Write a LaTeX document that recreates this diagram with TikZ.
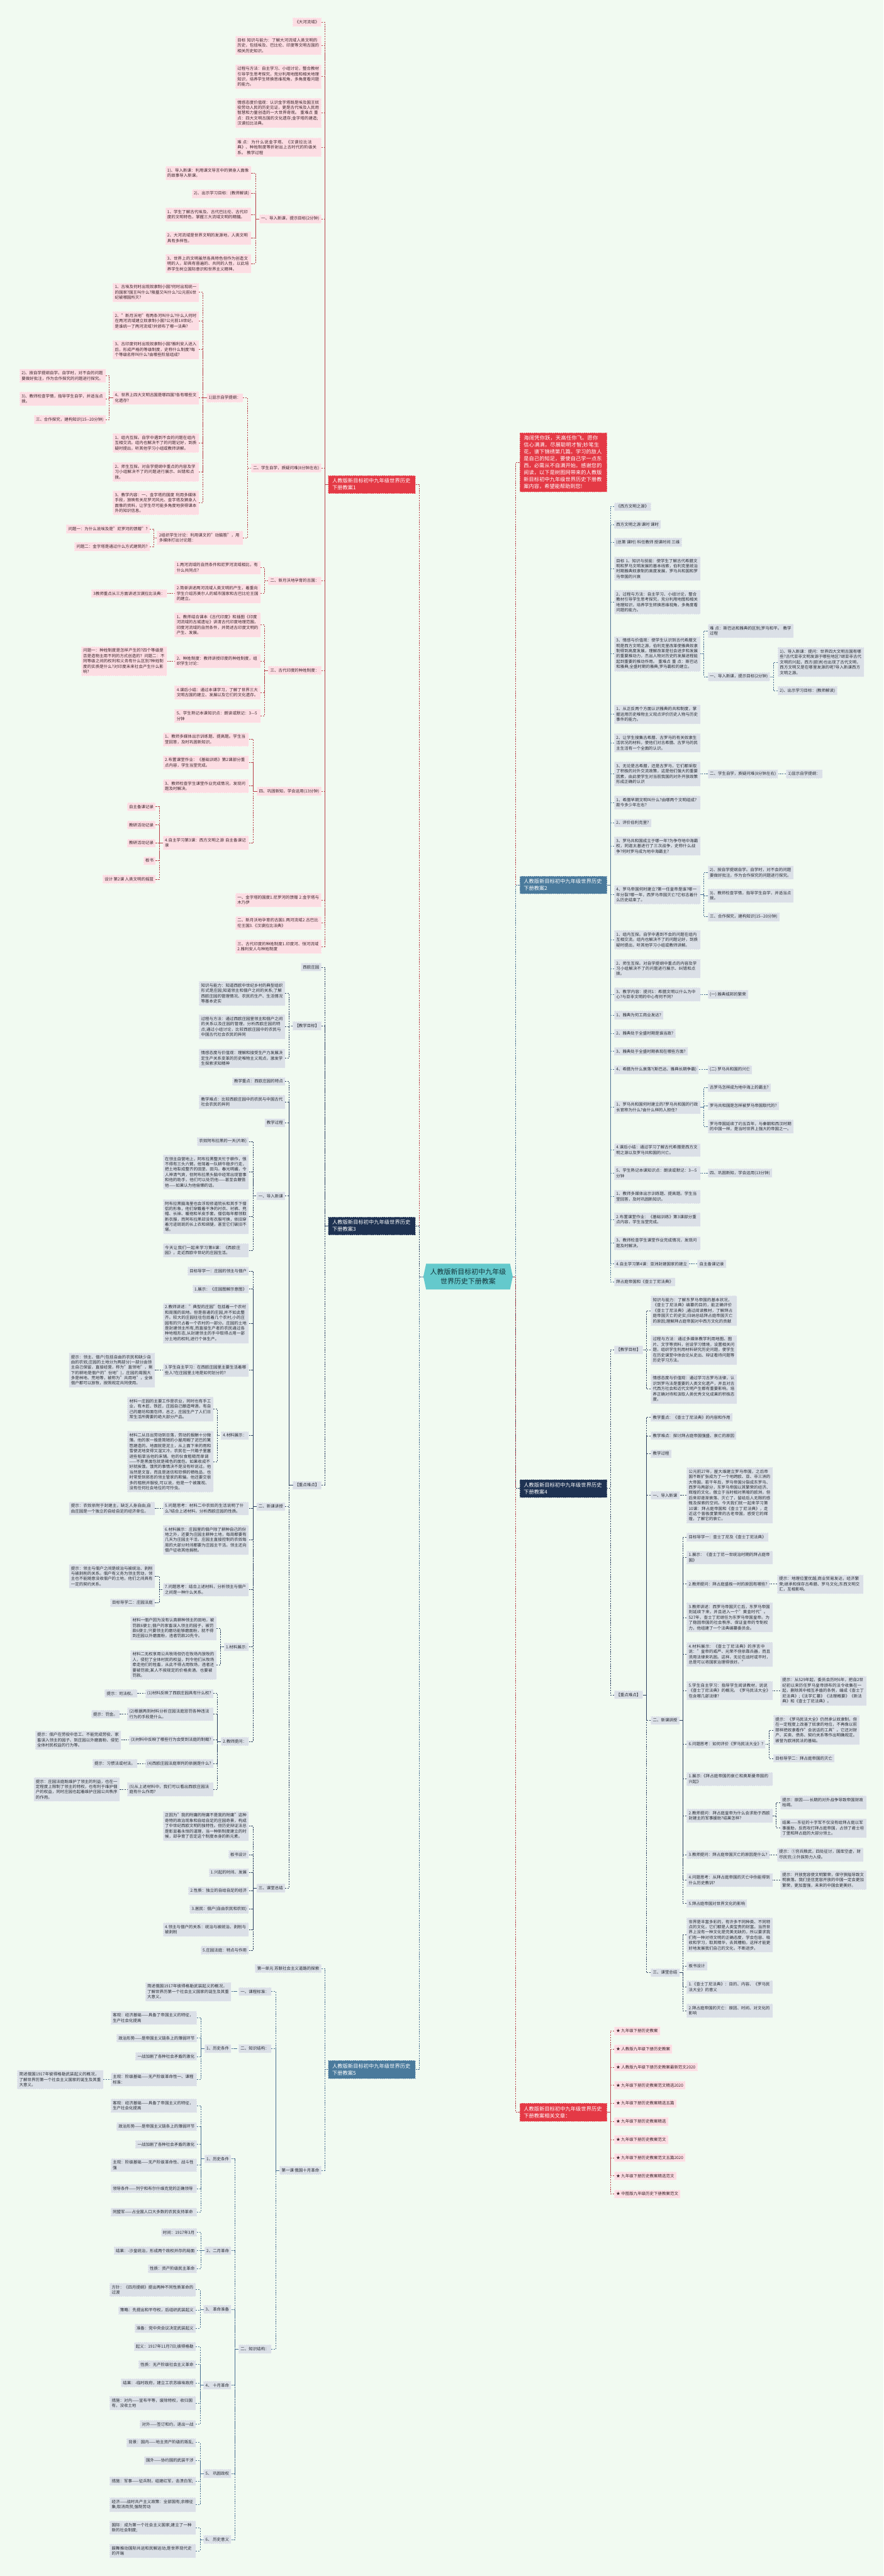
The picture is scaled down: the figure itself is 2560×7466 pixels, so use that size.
\documentclass[tikz,border=0pt]{standalone}
\usepackage{fontspec}
\setmainfont{Noto Sans CJK SC}
\XeTeXlinebreaklocale "zh"
\XeTeXlinebreakskip=0pt plus 1pt
\usepackage{tikz}
\usetikzlibrary{positioning, shapes.symbols}

\definecolor{bgc}{RGB}{241,250,241}
\definecolor{pkfill}{RGB}{252,221,227}
\definecolor{pkedge}{RGB}{255,238,241}
\definecolor{pktext}{RGB}{60,38,44}
\definecolor{gyfill}{RGB}{219,224,231}
\definecolor{gyedge}{RGB}{238,241,245}
\definecolor{gytext}{RGB}{40,44,52}
\definecolor{kred}{RGB}{228,57,69}
\definecolor{knavy}{RGB}{30,50,82}
\definecolor{ksteel}{RGB}{74,122,156}
\definecolor{teal0}{RGB}{100,201,204}
\definecolor{roottext}{RGB}{20,52,58}
\definecolor{linered}{RGB}{185,62,72}
\definecolor{linenavy}{RGB}{42,62,96}
\definecolor{linesteel}{RGB}{72,110,145}

\newcommand\leaffont{\fontsize{11.8}{15.3}\selectfont}
\newcommand\branchfont{\fontsize{15}{20}\selectfont}
\newcommand\rootfont{\fontsize{20}{26}\selectfont}

\tikzset{
  leaf/.style={inner xsep=6pt, inner ysep=6.6pt, font=\leaffont, align=left, dashed, line width=0.5pt},
  pk/.style={leaf, fill=pkfill, draw=pkedge, text=pktext},
  gy/.style={leaf, fill=gyfill, draw=gyedge, text=gytext},
  wide/.style={text width=237pt},
  lt/.style={anchor=east},
  rt/.style={anchor=west},
  branch/.style={fill=#1, draw=white!55!#1, dashed, line width=0.6pt, text=white, font=\branchfont,
    align=left, text width=229pt, inner xsep=12pt, inner ysep=9pt},
  root/.style={signal, signal to=west and east, signal pointer angle=156, fill=teal0, text=roottext,
    font=\rootfont, align=center, minimum width=259pt, minimum height=75pt, inner xsep=2pt},
  lnk/.style={dash pattern=on 4pt off 3pt, line width=1.1pt},
  lr/.style={lnk, draw=linered},
  ln/.style={lnk, draw=linenavy},
  lb/.style={lnk, draw=linesteel}
}

\newcommand\linkL[3]{\foreach \ch in {#3} {\draw[#1] (\ch.east) -| ([xshift=-10pt]#2.west) -- (#2.west);}}
\newcommand\linkR[3]{\foreach \ch in {#3} {\draw[#1] (\ch.west) -| ([xshift=10pt]#2.east) -- (#2.east);}}

\begin{document}
\begin{tikzpicture}[x=1pt, y=-1pt]
  \fill[bgc] (0,0) rectangle (2560,7466);
  \useasboundingbox (0,0) rectangle (2560,7466);

  \node[root] (root) at (1356,3700) {人教版新目标初中九年级\\世界历史下册教案};

  \node[branch=kred, lt] (k1) at (1204,1404) {人教版新目标初中九年级世界历史下册教案1};
  \node[branch=knavy, lt] (k3) at (1204,3553) {人教版新目标初中九年级世界历史下册教案3};
  \node[branch=ksteel, lt] (k5) at (1204,5998) {人教版新目标初中九年级世界历史下册教案5};
  \node[branch=kred, rt] (hk) at (1505,1340) {海阔凭你跃，天高任你飞。愿你信心满满，尽展聪明才智;妙笔生花，谱下锦绣第几篇。学习的敌人是自己的知足，要使自己学一点东西，必需从不自满开始。感谢您的阅读，以下是树图网带来的人教版新目标初中九年级世界历史下册教案内容，希望能帮助到您!};
  \node[branch=ksteel, rt] (k2) at (1505,2565) {人教版新目标初中九年级世界历史下册教案2};
  \node[branch=knavy, rt] (k4) at (1505,4314) {人教版新目标初中九年级世界历史下册教案4};
  \node[branch=kred, rt] (kw) at (1505,6122) {人教版新目标初中九年级世界历史下册教案相关文章：};

  \draw[lr] (k1.east) -| ([xshift=-11pt]root.west) -- (root.west);
  \draw[ln] (k3.east) -| ([xshift=-11pt]root.west) -- (root.west);
  \draw[lb] (k5.east) -| ([xshift=-11pt]root.west) -- (root.west);
  \draw[lr] (hk.west) -| ([xshift=8pt]root.east) -- (root.east);
  \draw[lb] (k2.west) -| ([xshift=8pt]root.east) -- (root.east);
  \draw[ln] (k4.west) -| ([xshift=8pt]root.east) -- (root.east);
  \draw[lr] (kw.west) -| ([xshift=8pt]root.east) -- (root.east);

  % lesson 1
  \node[pk, lt] (a1) at (931,64) {《大河流域》};
  \node[pk, lt, wide] (a2) at (931,132) {目标 知识与能力：了解大河流域人类文明的历史，包括埃及、巴比伦、印度等文明古国的相关历史知识。};
  \node[pk, lt, wide] (a3) at (931,222) {过程与方法：自主学习、小组讨论，整合教材引导学生思考探究，充分利用地图和相关地理知识，培养学生转换思维视角，多角度看问题的能力。};
  \node[pk, lt, wide] (a4) at (931,327) {情感态度价值观：认识金字塔既是埃及国王奴役劳动人民的历史见证，更是古代埃及人民用智慧和力量创造的一大世界奇观。 重难点 重点：四大文明古国的文化遗存;金字塔的建造;汉谟拉比法典。};
  \node[pk, lt, wide] (a5) at (931,427) {难 点：为什么说金字塔、《汉谟拉比法典》、种姓制度等折射出上古时代的阶级关系。 教学过程};
  \node[pk, lt] (a6) at (931,634) {一、导入新课，提示目标(2分钟)};
  \node[pk, lt, wide] (a61) at (728,501) {1)、导入新课：利用课文导言中的狮身人面像的故事导入新课。};
  \node[pk, lt] (a62) at (728,561) {2)、出示学习目标：(教师解读)};
  \node[pk, lt, wide] (a63) at (728,622) {1、学生了解古代埃及、古代巴比伦、古代印度的文明特色，掌握三大流域文明的精髓。};
  \node[pk, lt, wide] (a64) at (728,690) {2、大河流域是世界文明的发源地，人类文明具有多样性。};
  \node[pk, lt, wide] (a65) at (728,764) {3、世界上的文明虽然各具特色但作为创造文明的人，却具有普遍的、共同的人性，以此培养学生树立国际意识和世界主义精神。};
  \node[pk, lt] (a7) at (931,1356) {二、学生自学，质疑问难(8分钟左右)};
  \node[pk, lt] (a71) at (704,1153) {1)显示自学提纲：};
  \node[pk, lt, wide] (a711) at (576,847) {1、古埃及何时出现奴隶制小国?何时出现统一的国家?国王叫什么?陵墓又叫什么?公元前6世纪被哪国所灭?};
  \node[pk, lt, wide] (a712) at (576,930) {2、"新月沃地"有两条河叫什么?什么人何时在两河流域建立奴隶制小国?公元前18世纪，是谁统一了两河流域?并颁布了哪一法典?};
  \node[pk, lt, wide] (a713) at (576,1013) {3、古印度何时出现奴隶制小国?雅利安人进入后，形成严格的等级制度，史称什么制度?每个等级名称叫什么?由哪些阶层组成?};
  \node[pk, lt, wide] (a714) at (576,1153) {4、世界上四大文明古国是哪四国?各有哪些文化遗存?};
  \node[pk, lt, wide] (a7141) at (306,1089) {2)、按自学提纲自学。自学时，对不会的问题要做好批注，作为合作探究的问题进行探究。};
  \node[pk, lt, wide] (a7142) at (306,1156) {3)、教师检查学情，指导学生自学，并适当点拨。};
  \node[pk, lt] (a7143) at (306,1216) {三、合作探究，建构知识(15-{}-20分钟)};
  \node[pk, lt, wide] (a715) at (576,1284) {1、组内互探。自学中遇到不会的问题在组内互相交流。组内也解决不了的问题记好，到质疑时提出，听其他学习小组或教师讲解。};
  \node[pk, lt, wide] (a716) at (576,1368) {2、师生互探。对自学提纲中重点的内容及学习小组解决不了的问题进行展示、纠错和点拨。};
  \node[pk, lt, wide] (a717) at (576,1457) {3、教学内容：一、金字塔的国度 利用多媒体手段，放映有关尼罗河风光、金字塔及狮身人面像的资料，让学生尽可能多角度地获得课本外的知识信息。};
  \node[pk, lt, wide] (a72) at (704,1559) {2组织学生讨论：利用课文的"动脑筋"，用多媒体打出讨论题：};
  \node[pk, lt] (a721) at (434,1533) {问题一：为什么说埃及是"尼罗河的馈赠"?};
  \node[pk, lt] (a722) at (434,1584) {问题二：金字塔是通过什么方式建筑的?};
  \node[pk, lt] (a8) at (931,1683) {二、新月沃地孕育的古国：};
  \node[pk, lt, wide] (a81) at (755,1645) {1.两河流域的自然条件和尼罗河流域相比，有什么共同点?};
  \node[pk, lt, wide] (a82) at (755,1720) {2.简单讲述两河流域人类文明的产生，着重向学生介绍苏美尔人的城市国家和古巴比伦王国的建立。};
  \node[pk, lt] (a821) at (484,1720) {3教师重点从三方面讲述汉谟拉比法典：};
  \node[pk, lt] (a9) at (931,1943) {三、古代印度的种姓制度：};
  \node[pk, lt, wide] (a91) at (755,1811) {1、教师结合课本《古代印度》和插图《印度河流域的古城遗址》讲清古代印度地理范围，印度河流域的自然条件，并简述古印度文明的产生、发展。};
  \node[pk, lt, wide] (a92) at (755,1916) {2、种姓制度：教师讲授印度的种姓制度，组织学生讨论：};
  \node[pk, lt, wide] (a921) at (484,1916) {问题一：种姓制度是怎样产生的?四个等级是否是造物主用不同的方式创造的? 问题二：不同等级之间的权利和义务有什么区别?种姓制度的实质是什么?对印度未来社会产生什么影响?};
  \node[pk, lt, wide] (a93) at (755,2007) {4.课后小结：通过本课学习，了解了世界三大文明古国的建立、发展以及它们的文化遗存。};
  \node[pk, lt, wide] (a94) at (755,2075) {5、学生熟记本课知识点：朗读或默记：3—5分钟};
  \node[pk, lt] (a10) at (931,2293) {四、巩固新知，学会运用(13分钟)};
  \node[pk, lt, wide] (a101) at (721,2143) {1、教师多媒体出示训练题、提高题。学生当堂回答，及时巩固新知识。};
  \node[pk, lt, wide] (a102) at (721,2210) {2.布置课堂作业：《基础训练》第2课部分重点内容，学生当堂完成。};
  \node[pk, lt, wide] (a103) at (721,2278) {3、教师检查学生课堂作业完成情况，发现问题及时解决。};
  \node[pk, lt, wide] (a104) at (721,2443) {4.自主学习第3课：西方文明之源 自主备课记录};
  \node[pk, lt] (a1041) at (451,2338) {自主备课记录};
  \node[pk, lt] (a1042) at (451,2391) {教研活动记录};
  \node[pk, lt] (a1043) at (451,2443) {教研活动记录};
  \node[pk, lt] (a1044) at (451,2494) {板书};
  \node[pk, lt] (a1045) at (451,2548) {设计 第2课 人类文明的摇篮};
  \node[pk, lt, wide] (a11) at (931,2608) {一、金字塔的国度1.尼罗河的馈赠 2.金字塔与木乃伊};
  \node[pk, lt, wide] (a12) at (931,2675) {二、新月沃地孕育的古国1.两河流域2.古巴比伦王国3.《汉谟拉比法典》};
  \node[pk, lt, wide] (a13) at (931,2743) {三、古代印度的种姓制度1.印度河、恒河流域2.雅利安人与种姓制度};

  \linkL{lr}{k1}{a1,a2,a3,a4,a5,a6,a7,a8,a9,a10,a11,a12,a13}
  \linkL{lr}{a6}{a61,a62,a63,a64,a65}
  \linkL{lr}{a7}{a71,a72}
  \linkL{lr}{a71}{a711,a712,a713,a714,a715,a716,a717}
  \linkL{lr}{a714}{a7141,a7142,a7143}
  \linkL{lr}{a72}{a721,a722}
  \linkL{lr}{a8}{a81,a82}
  \linkL{lr}{a82}{a821}
  \linkL{lr}{a9}{a91,a92,a93,a94}
  \linkL{lr}{a92}{a921}
  \linkL{lr}{a10}{a101,a102,a103,a104}
  \linkL{lr}{a104}{a1041,a1042,a1043,a1044,a1045}

  % lesson 3
  \node[gy, lt] (b1) at (931,2803) {西欧庄园};
  \node[gy, lt] (b2) at (931,2973) {【教学目标】};
  \node[gy, lt, wide] (b21) at (826,2879) {知识与能力：知道西欧中世纪乡村的典型组织形式是庄园;知道领主和佃户之间的关系;了解西欧庄园的管理情况、农民的生产、生活情况等基本史实};
  \node[gy, lt, wide] (b22) at (826,2976) {过程与方法：通过西欧庄园里领主和佃户之间的关系以及庄园的管理，分析西欧庄园的特点;通过小组讨论，比较西欧庄园中的农民与中国古代社会农民的异同};
  \node[gy, lt, wide] (b23) at (826,3067) {情感态度与价值观：理解和接受生产力发展决定生产关系变革的历史唯物主义观点，激发学生探索求知精神};
  \node[gy, lt] (b3) at (931,4304) {【重点难点】};
  \node[gy, lt] (b31) at (826,3134) {教学重点：西欧庄园的特点};
  \node[gy, lt, wide] (b32) at (826,3194) {教学难点：比较西欧庄园中的农民与中国古代社会农民的异同};
  \node[gy, lt] (b33) at (826,3254) {教学过程};
  \node[gy, lt] (b34) at (826,3466) {一、导入新课};
  \node[gy, lt] (b341) at (721,3308) {农奴阿布拉黑的一天(片断)};
  \node[gy, lt, wide] (b342) at (721,3397) {在领主自营地上，阿布拉黑整天忙于耕作，恨不得有三头六臂。他驾着一队耕牛稳步行走，把土地犁成整齐的田垄、田沟。春光明媚，令人神清气爽，但阿布拉黑头脑中经常出现管事和他的助手，他们可以处罚他——甚至会鞭笞他——如果认为他偷懒的话。};
  \node[gy, lt, wide] (b343) at (721,3526) {阿布拉黑脑海里也会浮现修道院长和其手下僧侣的形象，他们穿戴着干净的衬衣、衬裤、兜帽、长袜、暖袍和羊皮手套。僧侣每年都领取新衣服，而阿布拉黑却没有衣服可换，依旧穿着污迹斑斑的长上衣和绑腿，甚至它们破旧不堪。};
  \node[gy, lt, wide] (b344) at (721,3624) {今天让我们一起来学习第8课：《西欧庄园》，走近西欧中世纪的庄园生活。};
  \node[gy, lt] (b35) at (826,4366) {二、新课讲授};
  \node[gy, lt] (b351) at (721,3684) {目标导学一：庄园的领主与佃户};
  \node[gy, lt] (b352) at (721,3736) {1.展示：《庄园图解示意图》};
  \node[gy, lt, wide] (b353) at (721,3835) {2.教师讲述："典型的庄园"包括着一个农村和周围的田地。但是普通的庄园,并不如此整齐。较大的庄园往往包括着几个农村,小的庄园有的只占着一个农村的一部分。庄园的土地是封建领主所有,而直接生产者的农民通过各种地租形态,从封建领主的手中取得占用一部分土地的权利,进行个体生产。};
  \node[gy, lt, wide] (b354) at (721,3971) {3.学生自主学习：在西欧庄园里主要生活着哪些人?在庄园里土地是如何划分的?};
  \node[gy, lt, wide] (b3541) at (449,3971) {提示：领主、佃户(包括自由的农民和缺少自由的农奴;庄园的土地分为两部分(一部分由领主自己保留，直接经营，称为"直领地"，剩下的耕地是佃户的"份地")，庄园的周围大多是林地、荒地等，被称为"共用地"，全体佃户都可以放牧，按照规定共同使用。};
  \node[gy, lt] (b355) at (721,4160) {4.材料展示：};
  \node[gy, lt, wide] (b3551) at (618,4084) {材料一庄园的主要工作是农业，同时也有手工业，有木匠、铁匠，庄园自己酿造啤酒，有自己的磨坊和面包师，总之，庄园生产了人们日常生活所需要的绝大部分产品。};
  \node[gy, lt, wide] (b3552) at (618,4236) {材料二从日出劳动到日落，劳动的报酬十分微薄。他的家一般是简陋的小屋用糊了泥巴的篱笆建造的。地面就是泥土，从上面下来的雨和雪使泥地变得又湿又冷。农民在一只箱子里塞进些稻草当他的床铺。他的伙食粗糙而单调——不是黑面包就是褐色的面包。如果收成不好就挨饿。饿死的事情决不是没有听说过。他当然是文盲，而且是迷信和恐惧的牺牲品，也时常受到邪恶的领主管家的欺骗。他还要交很多的租税并服役,可以说，他是一个被蔑视、没有任何社会地位的可怜虫。};
  \node[gy, lt, wide] (b356) at (721,4372) {5.问题思考：材料二中农奴的生活说明了什么?结合上述材料，分析西欧庄园的性质。};
  \node[gy, lt, wide] (b3561) at (449,4372) {提示：农奴依附于封建主，缺乏人身自由;自由庄园是一个独立的自给自足的经济单位。};
  \node[gy, lt, wide] (b357) at (721,4463) {6.材料展示：庄园里的佃户除了耕种自己的份地之外，还要为庄园主耕种土地，每周都要有几天为庄园主干活，庄园主直接控制的农奴每周的大部分时间都要为庄园主干活。领主还向佃户征收其他捐税。};
  \node[gy, lt, wide] (b358) at (721,4607) {7.问题思考：结合上述材料，分析领主与佃户之间是一种什么关系。};
  \node[gy, lt, wide] (b3581) at (449,4568) {提示：领主与佃户之间是统治与被统治、剥削与被剥削的关系。佃户有义务为领主劳动，领主也不能随意没收佃户的土地，他们之间具有一定的契约关系。};
  \node[gy, lt] (b3582) at (449,4645) {目标导学二：庄园法庭};
  \node[gy, lt] (b359) at (721,4773) {1.材料展示:};
  \node[gy, lt, wide] (b3591) at (627,4719) {材料一佃户因为没有认真耕种领主的田地，被罚款6便士;佃户的家畜误入领主的园子，被罚款6便士;只要领主的磨坊能够磨面粉，就不得到庄园以外磨面粉，违者罚款20先令。};
  \node[gy, lt, wide] (b3592) at (627,4825) {材料二无权享用公共牧场但仍在牧场内放牧的人，侵犯了全体村民的权益，判令他们从牧场牵走他们的牲畜，从此不得占用牧场，违者还要被罚款;某人不按规定的价格卖酒，也要被罚款。};
  \node[gy, lt] (b360) at (721,5047) {2.教师提问：};
  \node[gy, lt] (b3601) at (618,4908) {(1)材料反映了西欧庄园具有什么权?};
  \node[gy, lt] (b3601h) at (398,4908) {提示：司法权。};
  \node[gy, lt, wide] (b3602) at (618,4968) {(2)根据两则材料分析庄园法庭惩罚各种违法行为的手段是什么。};
  \node[gy, lt] (b3602h) at (347,4968) {提示：罚金。};
  \node[gy, lt] (b3603) at (618,5043) {(3)材料中反映了哪些行为会受到法庭的制裁?};
  \node[gy, lt, wide] (b3603h) at (351,5043) {提示：佃户在劳役中怠工、不能完成劳役、家畜误入领主的园子、到庄园以外磨面粉、侵犯全体村民权益的行为等。};
  \node[gy, lt] (b3604) at (618,5111) {(4)西欧庄园法庭审判的依据是什么?};
  \node[gy, lt] (b3604h) at (398,5111) {提示：习惯法或村法。};
  \node[gy, lt, wide] (b3605) at (618,5186) {(5)从上述材料中，我们可以看出西欧庄园法庭有什么作用?};
  \node[gy, lt, wide] (b3605h) at (347,5186) {提示：庄园法庭既维护了领主的利益，也在一定程度上限制了领主的特权，也有利于维护佃户的权益，同时庄园也起着维护庄园公共秩序的作用。};
  \node[gy, lt] (b36) at (826,5472) {三、课堂总结};
  \node[gy, lt, wide] (b361) at (721,5292) {正因为"我的附庸的附庸不是我的附庸"这种奇特的政治现象和自给自足的庄园奇景，构成了中世纪西欧文明的独特性。但历史辩证法总是彰显着永恒的道理，当一种新制度建立的时候，却孕育了否定这个制度本身的新元素。};
  \node[gy, lt] (b362) at (721,5375) {板书设计};
  \node[gy, lt] (b363) at (721,5427) {1.兴起的时间、发展};
  \node[gy, lt] (b364) at (721,5480) {2.性质：独立的自给自足的经济};
  \node[gy, lt] (b365) at (721,5533) {3.居民：佃户(自由农民和农奴)};
  \node[gy, lt, wide] (b366) at (721,5592) {4.领主与佃户的关系：统治与被统治、剥削与被剥削};
  \node[gy, lt] (b367) at (721,5652) {5.庄园法庭：特点与作用};

  \linkL{ln}{k3}{b1,b2,b3}
  \linkL{ln}{b2}{b21,b22,b23}
  \linkL{ln}{b3}{b31,b32,b33,b34,b35,b36}
  \linkL{ln}{b34}{b341,b342,b343,b344}
  \linkL{ln}{b35}{b351,b352,b353,b354,b355,b356,b357,b358,b359,b360}
  \linkL{ln}{b354}{b3541}
  \linkL{ln}{b355}{b3551,b3552}
  \linkL{ln}{b356}{b3561}
  \linkL{ln}{b358}{b3581,b3582}
  \linkL{ln}{b359}{b3591,b3592}
  \linkL{ln}{b360}{b3601,b3602,b3603,b3604,b3605}
  \linkL{ln}{b3601}{b3601h}
  \linkL{ln}{b3602}{b3602h}
  \linkL{ln}{b3603}{b3603h}
  \linkL{ln}{b3604}{b3604h}
  \linkL{ln}{b3605}{b3605h}
  \linkL{ln}{b36}{b361,b362,b363,b364,b365,b366,b367}

  % lesson 5
  \node[gy, lt] (c1) at (931,5705) {第一单元 苏联社会主义道路的探索};
  \node[gy, lt] (c2) at (931,6290) {第一课 俄国十月革命};
  \node[gy, lt] (c21) at (786,5772) {一、课程标准：};
  \node[gy, lt, wide] (c211) at (670,5772) {简述俄国1917年彼得格勒武装起义的概况，了解世界历第一个社会主义国家的诞生及其重大意义。};
  \node[gy, lt] (c22) at (786,5937) {二、知识结构：};
  \node[gy, lt] (c221) at (670,5937) {1、历史条件};
  \node[gy, lt, wide] (c2211) at (570,5848) {客观：经济基础——具备了帝国主义的特征，生产社会化提高};
  \node[gy, lt] (c2212) at (570,5907) {政治形势——是帝国主义链条上的薄弱环节};
  \node[gy, lt] (c2213) at (570,5960) {一战加剧了各种社会矛盾的激化};
  \node[gy, lt, wide] (c2214) at (570,6027) {主观：阶级基础——无产阶级革命性一、课程标准：};
  \node[gy, lt, wide] (c22141) at (299,6027) {简述俄国1917年彼得格勒武装起义的概况，了解世界历第一个社会主义国家的诞生及其重大意义。};
  \node[gy, lt] (c23) at (786,6808) {二、知识结构：};
  \node[gy, lt] (c231) at (670,6257) {1、历史条件};
  \node[gy, lt, wide] (c2311) at (570,6103) {客观：经济基础——具备了帝国主义的特征，生产社会化提高};
  \node[gy, lt] (c2312) at (570,6163) {政治形势——是帝国主义链条上的薄弱环节};
  \node[gy, lt] (c2313) at (570,6215) {一战加剧了各种社会矛盾的激化};
  \node[gy, lt, wide] (c2314) at (570,6275) {主观：阶级基础——无产阶级革命性、战斗性强};
  \node[gy, lt, wide] (c2315) at (570,6343) {领导条件——列宁和布尔什维克党的正确领导};
  \node[gy, lt, wide] (c2316) at (570,6411) {同盟军——占全国人口大多数的农民支持革命};
  \node[gy, lt] (c232) at (670,6523) {2、二月革命};
  \node[gy, lt] (c2321) at (570,6470) {时间：1917年3月};
  \node[gy, lt] (c2322) at (570,6523) {结果：-沙皇统治，形成两个政权并存的局面};
  \node[gy, lt] (c2323) at (570,6575) {性质：资产阶级民主革命};
  \node[gy, lt] (c233) at (670,6693) {3、 革命准备};
  \node[gy, lt, wide] (c2331) at (567,6636) {方针：《四月提纲》提出两种不同性质革命的过渡};
  \node[gy, lt] (c2332) at (567,6696) {策略：先提出和平夺权，后组织武装起义};
  \node[gy, lt] (c2333) at (567,6748) {准备：党中央会议决定武装起义};
  \node[gy, lt] (c234) at (670,6913) {4、 十月革命};
  \node[gy, lt] (c2341) at (567,6801) {起义：1917年11月7日;彼得格勒};
  \node[gy, lt] (c2342) at (567,6853) {性质：无产阶级社会主义革命};
  \node[gy, lt] (c2343) at (567,6906) {结果：-临时政府，建立工农苏维埃政府};
  \node[gy, lt, wide] (c2344) at (567,6965) {措施：对内——宣布平等，废除特权，收归国有，没收土地};
  \node[gy, lt] (c2345) at (567,7026) {对外——签订和约，退出一战};
  \node[gy, lt] (c235) at (670,7169) {5、 巩固政权};
  \node[gy, lt] (c2351) at (567,7079) {背景：国内——地主资产阶级的叛乱;};
  \node[gy, lt] (c2352) at (567,7131) {国外——协约国的武装干涉};
  \node[gy, lt, wide] (c2353) at (567,7191) {措施：军事——征兵制，组建红军，击溃白军;};
  \node[gy, lt, wide] (c2354) at (567,7259) {经济——战时共产主义政策：全部国有;余粮征集;取消商贸;强制劳动};
  \node[gy, lt] (c236) at (670,7360) {6、 历史意义};
  \node[gy, lt, wide] (c2361) at (567,7326) {国际：成为第一个社会主义国家;建立了一种新的社会制度;};
  \node[gy, lt, wide] (c2362) at (567,7393) {鼓舞推动国际共运和民解运动;是世界现代史的开端};

  \linkL{lb}{k5}{c1,c2}
  \linkL{lb}{c2}{c21,c22,c23}
  \linkL{lb}{c21}{c211}
  \linkL{lb}{c22}{c221}
  \linkL{lb}{c221}{c2211,c2212,c2213,c2214}
  \linkL{lb}{c2214}{c22141}
  \linkL{lb}{c23}{c231,c232,c233,c234,c235,c236}
  \linkL{lb}{c231}{c2311,c2312,c2313,c2314,c2315,c2316}
  \linkL{lb}{c232}{c2321,c2322,c2323}
  \linkL{lb}{c233}{c2331,c2332,c2333}
  \linkL{lb}{c234}{c2341,c2342,c2343,c2344,c2345}
  \linkL{lb}{c235}{c2351,c2352,c2353,c2354}
  \linkL{lb}{c236}{c2361,c2362}

  % lesson 2
  \node[gy, rt] (d1) at (1779,1468) {《西方文明之源》};
  \node[gy, rt] (d2) at (1779,1520) {西方文明之源 课时 课时};
  \node[gy, rt] (d3) at (1779,1572) {(总第 课时) 科任教师 授课时间 三维};
  \node[gy, rt, wide] (d4) at (1779,1648) {目标 1、知识与技能：使学生了解古代希腊文明和罗马文明发展的基本线索，伯利克里统治时期雅典奴隶制的高度发展，罗马共和国和罗马帝国的兴衰};
  \node[gy, rt, wide] (d5) at (1779,1745) {2、过程与方法：自主学习、小组讨论，整合教材引导学生思考探究，充分利用地图和相关地理知识，培养学生转换思维视角，多角度看问题的能力。};
  \node[gy, rt, wide] (d6) at (1779,1895) {3、情感与价值观：使学生认识到古代希腊文明是西方文明之源，伯利克里改革使雅典奴隶制得到高度发展，理解改革是社会进步和发展的重要推动力，杰出人物对历史的发展进程能起到重要的推动作用。 重难点 重 点：斯巴达和雅典;全盛时期的雅典;罗马霸权的建立。};
  \node[gy, rt, wide] (d61) at (2050,1828) {难 点：斯巴达和雅典的区别;罗马和平。 教学过程};
  \node[gy, rt] (d62) at (2050,1961) {一、导入新课，提示目标(2分钟)};
  \node[gy, rt, wide] (d621) at (2253,1919) {1)、导入新课：提问：世界四大文明古国有哪些?古代亚非文明发源于哪些地区?继亚非古代文明的兴起，西方(欧洲)也出现了古代文明，西方文明又是在哪里发源的呢?导入新课西方文明之源。};
  \node[gy, rt] (d622) at (2253,2002) {2)、出示学习目标：(教师解读)};
  \node[gy, rt, wide] (d7) at (1779,2070) {1、从正反两个方面认识雅典的共和制度，掌握运用历史唯物主义观点评价历史人物与历史事件的能力。};
  \node[gy, rt, wide] (d8) at (1779,2153) {2、让学生搜集古希腊、古罗马的有关奴隶生活状况的材料，使他们对古希腊、古罗马的民主生活有一个全面的认识。};
  \node[gy, rt, wide] (d9) at (1779,2243) {3、无论是古希腊，还是古罗马，它们都采取了积极的对外交流政策，这是他们强大的重要因素，由此使学生对当前我国的对外开放政策形成正确的认识};
  \node[gy, rt] (d91) at (2050,2243) {二、学生自学，质疑问难(8分钟左右)};
  \node[gy, rt] (d911) at (2277,2243) {1)显示自学提纲：};
  \node[gy, rt, wide] (d10) at (1779,2326) {1、希腊早期文明叫什么?由哪两个文明组成?距今多少年左右?};
  \node[gy, rt] (d11) at (1779,2385) {2、评价伯利克里?};
  \node[gy, rt, wide] (d12) at (1779,2452) {3、罗马共和国成立于哪一年?为争夺地中海霸权，同迦太基进行了三次战争，史称什么战争?何时罗马成为地中海霸主?};
  \node[gy, rt, wide] (d13) at (1779,2593) {4、罗马帝国何时建立?第一任皇帝是谁?哪一年分裂?哪一年，西罗马帝国灭亡?它标志着什么历史结束了。};
  \node[gy, rt, wide] (d131) at (2050,2529) {2)、按自学提纲自学。自学时，对不会的问题要做好批注，作为合作探究的问题进行探究。};
  \node[gy, rt, wide] (d132) at (2050,2596) {3)、教师检查学情，指导学生自学，并适当点拨。};
  \node[gy, rt] (d133) at (2050,2657) {三、合作探究，建构知识(15-{}-20分钟)};
  \node[gy, rt, wide] (d14) at (1779,2724) {1、组内互探。自学中遇到不会的问题在组内互相交流。组内也解决不了的问题记好，到质疑时提出，听其他学习小组或教师讲解。};
  \node[gy, rt, wide] (d15) at (1779,2807) {2、师生互探。对自学提纲中重点的内容及学习小组解决不了的问题进行展示、纠错和点拨。};
  \node[gy, rt, wide] (d16) at (1779,2882) {3、教学内容：提问1：希腊文明以什么为中心?与亚非文明的中心有何不同?};
  \node[gy, rt] (d161) at (2050,2882) {(一) 雅典城邦的繁荣};
  \node[gy, rt] (d17) at (1779,2942) {1、雅典为何工商业发达?};
  \node[gy, rt] (d18) at (1779,2995) {2、雅典处于全盛时期是谁当政?};
  \node[gy, rt] (d19) at (1779,3047) {3、雅典处于全盛时期表现在哪些方面?};
  \node[gy, rt] (d20) at (1779,3100) {4、希腊为什么衰落?(斯巴达、雅典长期争霸)};
  \node[gy, rt] (d201) at (2050,3100) {(二) 罗马共和国的兴亡};
  \node[gy, rt, wide] (d21) at (1779,3209) {1、罗马共和国何时建立的?罗马共和国的行政长官称为什么?由什么样的人担任?};
  \node[gy, rt] (d211) at (2050,3152) {古罗马怎样成为地中海上的霸主?};
  \node[gy, rt] (d212) at (2050,3205) {罗马共和国是怎样被罗马帝国取代的?};
  \node[gy, rt, wide] (d213) at (2050,3265) {罗马帝国延续了约五百年，与秦朝和西汉时期的中国一样，是当时世界上强大的帝国之一。};
  \node[gy, rt, wide] (d22) at (1779,3333) {4.课后小结：通过学习了解古代希腊是西方文明之源以及罗马共和国的兴亡。};
  \node[gy, rt, wide] (d23) at (1779,3400) {5、学生熟记本课知识点：朗读或默记：3—5分钟};
  \node[gy, rt] (d231) at (2050,3400) {四、巩固新知，学会运用(13分钟)};
  \node[gy, rt, wide] (d24) at (1779,3468) {1、教师多媒体出示训练题、提高题。学生当堂回答，及时巩固新知识。};
  \node[gy, rt, wide] (d25) at (1779,3535) {2.布置课堂作业：《基础训练》第3课部分重点内容，学生当堂完成。};
  \node[gy, rt, wide] (d26) at (1779,3603) {3、教师检查学生课堂作业完成情况，发现问题及时解决。};
  \node[gy, rt] (d27) at (1779,3663) {4.自主学习第4课：亚洲封建国家的建立};
  \node[gy, rt] (d271) at (2020,3663) {自主备课记录};
  \node[gy, rt] (d28) at (1779,3715) {拜占庭帝国和《查士丁尼法典》};

  \linkR{lb}{k2}{d1,d2,d3,d4,d5,d6,d7,d8,d9,d10,d11,d12,d13,d14,d15,d16,d17,d18,d19,d20,d21,d22,d23,d24,d25,d26,d27,d28}
  \linkR{lb}{d6}{d61,d62}
  \linkR{lb}{d62}{d621,d622}
  \linkR{lb}{d9}{d91}
  \linkR{lb}{d91}{d911}
  \linkR{lb}{d13}{d131,d132,d133}
  \linkR{lb}{d16}{d161}
  \linkR{lb}{d20}{d201}
  \linkR{lb}{d21}{d211,d212,d213}
  \linkR{lb}{d23}{d231}
  \linkR{lb}{d27}{d271}

  % lesson 4
  \node[gy, rt] (e1) at (1779,3912) {【教学目标】};
  \node[gy, rt, wide] (e11) at (1885,3799) {知识与能力：了解东罗马帝国的基本状况，《查士丁尼法典》编纂的目的，能正确评价《查士丁尼法典》;通过阅读教材，了解拜占庭帝国灭亡的史实;归纳总结拜占庭帝国灭亡的原因;理解拜占庭帝国对中西方文化的贡献};
  \node[gy, rt, wide] (e12) at (1885,3912) {过程与方法：通过多媒体教学利用地图、图片、文字等资料，创设学习情境，设置相关问题，组织学生利用材料研究历史问题，使学生在历史课堂中体会论从史出、辩证看待问题等历史学习方法。};
  \node[gy, rt, wide] (e13) at (1885,4025) {情感态度与价值观：通过学习古罗马法律，认识到罗马法是重要的人类文化遗产，并且对古代西方社会和近代文明产生都有重要影响。培养正确对待和汲取人类优秀文化成果的积极态度。};
  \node[gy, rt] (e2) at (1779,4912) {【重点难点】};
  \node[gy, rt] (e21) at (1885,4108) {教学重点：《查士丁尼法典》的内容和作用};
  \node[gy, rt] (e22) at (1885,4161) {教学难点：探讨拜占庭帝国强盛、衰亡的原因};
  \node[gy, rt] (e23) at (1885,4213) {教学过程};
  \node[gy, rt] (e24) at (1885,4334) {一、导入新课};
  \node[gy, rt, wide] (e241) at (1989,4334) {公元前27年，屋大维建立罗马帝国，之后帝国不断扩张成为了一个地跨欧、亚、非三洲的大帝国，若干年后，罗马帝国分裂成东罗马、西罗马两部分，东罗马帝国以其繁荣的经济、辉煌的文化，傲立于当时相对黑暗的欧洲，但后来却逐渐衰落、灭亡了，留给后人无限的感慨及探索的空间。今天我们就一起来学习第10课：拜占庭帝国和《查士丁尼法典》，走近这个曾极度繁荣的古老帝国，感受它的辉煌，了解它的衰亡。};
  \node[gy, rt] (e25) at (1885,4986) {二、新课讲授};
  \node[gy, rt] (e251) at (1989,4455) {目标导学一：查士丁尼及《查士丁尼法典》};
  \node[gy, rt, wide] (e252) at (1989,4514) {1.展示：《查士丁尼一世统治时期的拜占庭帝国》};
  \node[gy, rt] (e253) at (1989,4591) {2.教师提问：拜占庭盛极一时的原因有哪些?};
  \node[gy, rt, wide] (e2531) at (2251,4591) {提示：地理位置优越;商业贸易发达，经济繁荣;继承和保存古希腊、罗马文化;东西文明交汇，互相影响。};
  \node[gy, rt, wide] (e254) at (1989,4688) {3.教师讲述：西罗马帝国灭亡后，东罗马帝国则延续下来，并且进入一个"黄金时代"。527年，查士丁尼继任为东罗马帝国皇帝。为了稳固帝国的社会秩序、保证皇帝的专制权力，他组建了一个法典编纂委员会。};
  \node[gy, rt, wide] (e255) at (1989,4795) {4.材料展示：《查士丁尼法典》的序言中说："皇帝的威严、光荣不但依靠兵器，而且须用法律来巩固。这样，无论在战时或平时，总是可以将国家治理得很好。"};
  \node[gy, rt, wide] (e256) at (1989,4900) {5.学生自主学习：指导学生阅读教材，说说《查士丁尼法典》的概况。《罗马民法大全》包含哪几部法律?};
  \node[gy, rt, wide] (e2561) at (2260,4900) {提示：从529年起，委员会历时6年，把自2世纪初以来历任罗马皇帝颁布的法令收集在一起，删除其中相互矛盾的条例，编成《查士丁尼法典》;《法学汇纂》《法理概要》《新法典》和《查士丁尼法典》。};
  \node[gy, rt] (e257) at (1989,5055) {6.问题思考：如何评价《罗马民法大全》?};
  \node[gy, rt, wide] (e2571) at (2240,5014) {提示：《罗马民法大全》仍然承认奴隶制，但在一定程度上改善了奴隶的地位，不再像以前那样把奴隶看作"会说话的工具"。它还对财产、买卖、债务、契约关系等作出明确规定。被誉为欧洲民法的基础。};
  \node[gy, rt] (e2572) at (2240,5096) {目标导学二：拜占庭帝国的灭亡};
  \node[gy, rt, wide] (e258) at (1989,5156) {1.展示:《拜占庭帝国的衰亡和奥斯曼帝国的兴起》};
  \node[gy, rt, wide] (e259) at (1989,5262) {2.教师提问：拜占庭皇帝为什么会求助于西欧封建主的军事援助?结果怎样?};
  \node[gy, rt, wide] (e2591) at (2260,5224) {提示：原因——长期的对外战争导致帝国财政枯竭。};
  \node[gy, rt, wide] (e2592) at (2260,5298) {结果——东征的十字军不仅没有给拜占庭以军事援助，反而攻打拜占庭帝国，占领了君士坦丁堡和拜占庭的大部分领土。};
  \node[gy, rt] (e260) at (1989,5375) {3.教师提问：拜占庭帝国灭亡的原因是什么?};
  \node[gy, rt, wide] (e2601) at (2251,5375) {提示：①穷兵黩武，四处征讨，国库空虚，财尽民穷;②外族势力入侵。};
  \node[gy, rt, wide] (e261) at (1989,5449) {4.问题思考：从拜占庭帝国的灭亡中你能得到什么历史教训?};
  \node[gy, rt, wide] (e2611) at (2260,5449) {提示：开放宽容使文明繁荣，保守狭隘导致文明衰落。我们坚信宽容开放的中国一定会更加繁荣，更加富强，未来的中国会更美好。};
  \node[gy, rt] (e262) at (1989,5517) {5.拜占庭帝国对世界文化的影响};
  \node[gy, rt] (e27) at (1885,5717) {三、课堂总结};
  \node[gy, rt, wide] (e271) at (1989,5608) {世界是丰富多彩的，有许多不同种类、不同特点的文化，它们都是人类宝贵的财富。当然世界上没有一种文化是完美无缺的，所以要求我们有一种对待文明的正确态度，学会包容、吸收和学习，取其精华，去其糟粕，这样才能更好地发展我们自己的文化，不断进步。};
  \node[gy, rt] (e272) at (1989,5698) {板书设计};
  \node[gy, rt, wide] (e273) at (1989,5759) {1.《查士丁尼法典》：目的、内容、《罗马民法大全》的意义};
  \node[gy, rt, wide] (e274) at (1989,5827) {2.拜占庭帝国的灭亡：原因、时间、对文化的影响};

  \linkR{ln}{k4}{e1,e2}
  \linkR{ln}{e1}{e11,e12,e13}
  \linkR{ln}{e2}{e21,e22,e23,e24,e25,e27}
  \linkR{ln}{e24}{e241}
  \linkR{ln}{e25}{e251,e252,e253,e254,e255,e256,e257,e258,e259,e260,e261,e262}
  \linkR{ln}{e253}{e2531}
  \linkR{ln}{e256}{e2561}
  \linkR{ln}{e257}{e2571,e2572}
  \linkR{ln}{e259}{e2591,e2592}
  \linkR{ln}{e260}{e2601}
  \linkR{ln}{e261}{e2611}
  \linkR{ln}{e27}{e271,e272,e273,e274}

  % related articles
  \foreach \t [count=\i] in {九年级下册历史教案, 人教版九年级下册历史教案, 人教版九年级下册历史教案最新范文2020,
      九年级下册历史教案范文精选2020, 九年级下册历史教案精选五篇, 九年级下册历史教案精选,
      九年级下册历史教案范文, 九年级下册历史教案范文五篇2020, 九年级下册历史教案精选范文,
      中图版九年级历史下册教案范文}
    \node[pk, rt] (f\i) at (1779,{5886+52.5*(\i-1)}) {★ \t};
  \linkR{lr}{kw}{f1,f2,f3,f4,f5,f6,f7,f8,f9,f10}
\end{tikzpicture}
\end{document}
